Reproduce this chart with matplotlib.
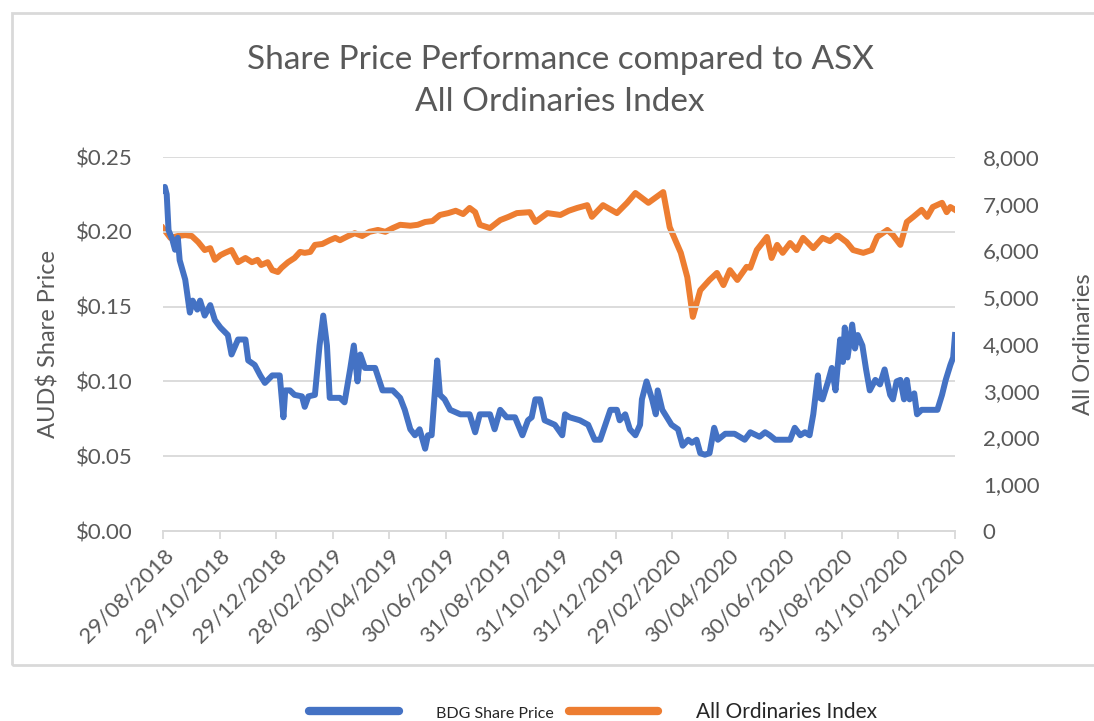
import datetime as dt
import matplotlib
matplotlib.use('Agg')
import matplotlib.pyplot as plt
import matplotlib.dates as mdates
from matplotlib.patches import Rectangle
from matplotlib.ticker import FuncFormatter, MultipleLocator

start = dt.date(2018, 8, 29)

# All Ordinaries Index: days since 29/08/2018, index level
ords_days = [0, 8, 16, 24, 31, 38, 45, 51, 56, 62, 67, 74, 81, 89, 96, 102,
             106, 113, 118, 124, 128, 135, 142, 148, 153, 159, 164, 172, 180,
             186, 191, 200, 207, 215, 223, 232, 240, 248, 256, 267, 275, 283,
             291, 299, 308, 316, 324, 331, 337, 342, 353, 364, 373, 382, 396,
             402, 415, 429, 438, 447, 458, 463, 475, 490, 501, 510, 524, 540,
             547, 559, 566, 572, 580, 590, 598, 605, 612, 620, 630, 634, 641,
             652, 657, 663, 669, 677, 684, 691, 702, 712, 720, 728, 738, 745,
             756, 765, 771, 782, 788, 796, 803, 810, 819, 825, 831, 841, 846,
             850, 855]
ords_vals = [6480, 6270, 6310, 6330, 6310, 6180, 6010, 6050, 5800, 5900, 5950,
             6010, 5750, 5840, 5750, 5800, 5690, 5750, 5580, 5540, 5630, 5750,
             5840, 5970, 5950, 5970, 6120, 6140, 6220, 6270, 6220, 6310, 6370,
             6310, 6400, 6440, 6400, 6480, 6550, 6530, 6550, 6610, 6630, 6760,
             6800, 6850, 6780, 6910, 6820, 6550, 6480, 6650, 6720, 6800, 6820,
             6610, 6800, 6760, 6850, 6910, 6970, 6720, 6970, 6800, 7020, 7230,
             7020, 7250, 6500, 5950, 5430, 4580, 5150, 5370, 5520, 5260, 5580,
             5370, 5650, 5630, 6010, 6290, 5840, 6120, 5950, 6160, 6010, 6270,
             6050, 6270, 6200, 6330, 6180, 6010, 5950, 6010, 6290, 6440, 6330,
             6120, 6610, 6720, 6870, 6720, 6930, 7020, 6820, 6930, 6870]

# BDG share price: days since 29/08/2018, AUD
bdg_days = [0, 2, 4, 6, 10, 13, 16, 18, 24, 29, 32, 37, 40, 45, 51, 56, 62, 70,
            74, 81, 89, 92, 99, 105, 110, 118, 126, 130, 132, 137, 142, 150,
            153, 157, 164, 169, 173, 177, 180, 191, 196, 202, 206, 210, 213,
            218, 229, 237, 248, 256, 261, 267, 272, 277, 283, 286, 290, 296,
            299, 304, 310, 321, 331, 337, 342, 353, 358, 364, 371, 380, 388,
            394, 398, 402, 407, 412, 423, 431, 434, 439, 450, 459, 466, 472,
            483, 490, 493, 499, 504, 510, 515, 517, 522, 528, 532, 534, 539,
            544, 549, 556, 561, 567, 571, 576, 580, 585, 590, 595, 599, 607,
            617, 628, 634, 644, 650, 655, 661, 666, 677, 682, 688, 693, 698,
            702, 707, 709, 712, 718, 722, 726, 731, 734, 736, 739, 744, 747,
            750, 755, 759, 763, 769, 774, 779, 785, 788, 792, 796, 800, 803,
            806, 811, 814, 819, 828, 836, 841, 845, 850, 853, 855]
bdg_vals = [0.228, 0.230, 0.225, 0.201, 0.195, 0.188, 0.196, 0.181, 0.168,
            0.146, 0.154, 0.148, 0.154, 0.144, 0.151, 0.141, 0.136, 0.131,
            0.118, 0.128, 0.128, 0.114, 0.111, 0.104, 0.099, 0.104, 0.104,
            0.076, 0.094, 0.094, 0.091, 0.090, 0.083, 0.090, 0.091, 0.124,
            0.144, 0.124, 0.089, 0.089, 0.086, 0.108, 0.124, 0.100, 0.118,
            0.109, 0.109, 0.094, 0.094, 0.089, 0.081, 0.068, 0.064, 0.068,
            0.055, 0.064, 0.064, 0.114, 0.091, 0.088, 0.081, 0.078, 0.078,
            0.066, 0.078, 0.078, 0.068, 0.081, 0.076, 0.076, 0.064, 0.074,
            0.076, 0.088, 0.088, 0.074, 0.071, 0.064, 0.078, 0.076, 0.074,
            0.071, 0.061, 0.061, 0.081, 0.081, 0.074, 0.078, 0.068, 0.064,
            0.071, 0.088, 0.100, 0.088, 0.078, 0.094, 0.081, 0.076, 0.071,
            0.068, 0.057, 0.061, 0.059, 0.061, 0.052, 0.051, 0.052, 0.069,
            0.061, 0.065, 0.065, 0.061, 0.066, 0.063, 0.066, 0.064, 0.061,
            0.061, 0.061, 0.069, 0.064, 0.066, 0.064, 0.078, 0.104, 0.089,
            0.088, 0.100, 0.109, 0.094, 0.128, 0.113, 0.136, 0.116, 0.138,
            0.122, 0.131, 0.124, 0.108, 0.094, 0.101, 0.098, 0.108, 0.091,
            0.088, 0.100, 0.101, 0.088, 0.101, 0.088, 0.092, 0.078, 0.081,
            0.081, 0.081, 0.091, 0.101, 0.111, 0.116, 0.131]

tick_dates = ['29/08/2018', '29/10/2018', '29/12/2018', '28/02/2019',
              '30/04/2019', '30/06/2019', '31/08/2019', '31/10/2019',
              '31/12/2019', '29/02/2020', '30/04/2020', '30/06/2020',
              '31/08/2020', '31/10/2020', '31/12/2020']

BLUE = '#4472c4'
ORANGE = '#ed7d31'
GREY = '#595959'
LIGHT = '#d9d9d9'

plt.rcParams['font.family'] = ['Lato', 'DejaVu Sans']


def to_dates(days):
    return [start + dt.timedelta(days=d) for d in days]


def main():
    fig = plt.figure(figsize=(10.94, 7.21), dpi=100)
    fig.patches.append(Rectangle((12 / 1094, 1 - 665 / 721), 1.0, 652 / 721,
                                 transform=fig.transFigure, fill=False,
                                 edgecolor=LIGHT, linewidth=2))

    ax = fig.add_axes([163 / 1094, 1 - 531 / 721, 792 / 1094, 374 / 721])
    ax2 = ax.twinx()

    l1, = ax.plot(to_dates(bdg_days), bdg_vals, color=BLUE, lw=4.3,
                  solid_joinstyle='round', label='BDG Share Price', zorder=3)
    l2, = ax2.plot(to_dates(ords_days), ords_vals, color=ORANGE, lw=4.3,
                   solid_joinstyle='round', label='All Ordinaries Index')

    ax.set_ylim(0, 0.25)
    ax.yaxis.set_major_locator(MultipleLocator(0.05))
    ax.yaxis.set_major_formatter(FuncFormatter(lambda v, p: '${:.2f}'.format(v)))
    ax2.set_ylim(0, 8000)
    ax2.yaxis.set_major_locator(MultipleLocator(1000))
    ax2.yaxis.set_major_formatter(FuncFormatter(lambda v, p: '{:,.0f}'.format(v)))

    ticks = [dt.datetime.strptime(t, '%d/%m/%Y') for t in tick_dates]
    ax.set_xlim(mdates.date2num(start), mdates.date2num(dt.date(2020, 12, 31)))
    ax.set_xticks(ticks)
    ax.set_xticklabels(tick_dates, rotation=45, ha='right', rotation_mode='anchor')

    ax.grid(True, axis='y', color=LIGHT, lw=1.3)
    ax.set_axisbelow(True)
    for a in (ax, ax2):
        for s in ('top', 'left', 'right'):
            a.spines[s].set_visible(False)
        a.spines['bottom'].set_color(LIGHT)
        a.spines['bottom'].set_linewidth(1.3)
    ax.tick_params(axis='x', colors=GREY, labelsize=16, length=6,
                   width=1.3, color=LIGHT, pad=4)
    ax.tick_params(axis='y', colors=GREY, labelsize=16, length=0, pad=22)
    ax2.tick_params(axis='y', colors=GREY, labelsize=16, length=0, pad=20)

    ax.set_ylabel('AUD$ Share Price', color=GREY, fontsize=17, labelpad=12)
    ax2.set_ylabel('All Ordinaries', color=GREY, fontsize=17, labelpad=24)

    fig.text(0.512, 1 - 60 / 721, 'Share Price Performance compared to ASX',
             ha='center', va='center', color=GREY, fontsize=24)
    fig.text(0.512, 1 - 102 / 721, 'All Ordinaries Index',
             ha='center', va='center', color=GREY, fontsize=24)

    ax.set_zorder(ax2.get_zorder() + 1)
    ax.patch.set_visible(False)

    leg = fig.legend([l1, l2], ['BDG Share Price', 'All Ordinaries Index'],
                     loc='center', bbox_to_anchor=(0.542, 1 - 712 / 721),
                     ncol=2, frameon=False, handlelength=4.3,
                     columnspacing=0.7, handletextpad=1.8, fontsize=15)
    leg.get_texts()[0].set_fontsize(11.5)
    for t in leg.get_texts():
        t.set_color('#262626')
    for h in leg.get_lines():
        h.set_linewidth(6)
        h.set_solid_capstyle('round')

    fig.savefig('out.png', dpi=100)


if __name__ == '__main__':
    main()
